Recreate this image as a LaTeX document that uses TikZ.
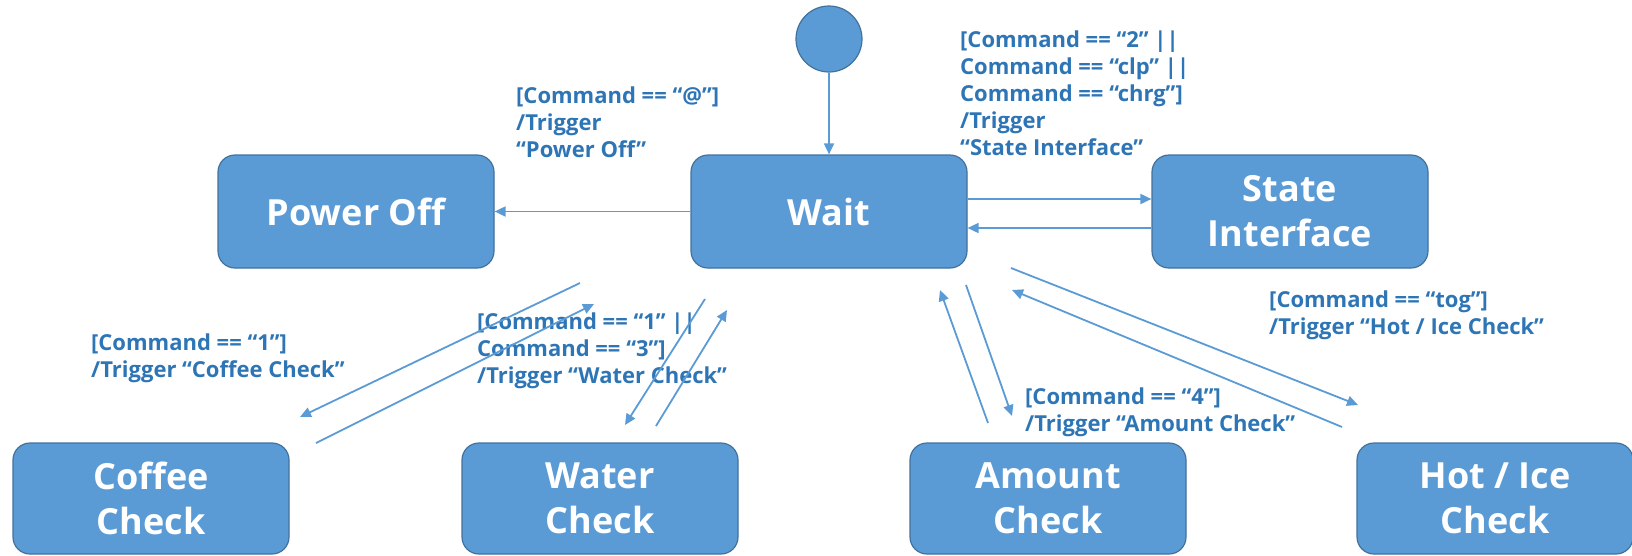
\documentclass[tikz,border=0pt]{standalone}
\usepackage{fontspec}
\setmainfont{Open Sans}
\usetikzlibrary{arrows.meta}
\definecolor{boxfill}{HTML}{5B9BD5}
\definecolor{boxline}{HTML}{41719C}
\definecolor{lblc}{HTML}{2E75B6}
\begin{document}
\begin{tikzpicture}[x=1pt,y=-1pt,
  state/.style={draw=boxline, line width=1.2pt, fill=boxfill, rounded corners=17pt,
    minimum width=276pt, minimum height=113pt, inner sep=0pt, text=white,
    font=\fontsize{36}{45}\selectfont\bfseries, align=center},
  lbl/.style={text=lblc, font=\fontsize{22}{27}\selectfont\bfseries, align=left,
    anchor=north west, inner sep=0pt},
  tr/.style={draw=boxfill, line width=1.8pt, -{Triangle[length=11pt,width=10pt]}}]
\useasboundingbox (0,0) rectangle (1632,555);
% states
\node[circle, fill=boxfill, draw=boxline, line width=1.2pt, minimum size=66pt, inner sep=0pt] (init) at (829,39) {};
\node[state] (wait) at (829,211.5) {Wait};
\node[state] (poweroff) at (356,211.5) {Power Off};
\node[state] (si) at (1290,211.5) {State\\Interface};
\node[state, minimum height=111pt] (coffee) at (151,498.5) {Coffee\\Check};
\node[state, minimum height=111pt] (water) at (600,498.5) {Water\\Check};
\node[state, minimum height=111pt] (amount) at (1048,498.5) {Amount\\Check};
\node[state, minimum height=111pt] (hot) at (1495,498.5) {Hot / Ice\\Check};
% labels
\node[lbl] (lp) at (516,87) {[Command == “@”]\\/Trigger\\“Power Off”};
\node[lbl] (ls) at (960,31) {[Command == “2” ||\\Command == “clp” ||\\Command == “chrg”]\\/Trigger\\“State Interface”};
\node[lbl] (lc) at (91,334) {[Command == “1”]\\/Trigger “Coffee Check”};
\node[lbl] (lw) at (477,313) {[Command == “1” ||\\Command == “3”]\\/Trigger “Water Check”};
\node[lbl] (la) at (1025,388) {[Command == “4”]\\/Trigger “Amount Check”};
\node[lbl] (lh) at (1269,291) {[Command == “tog”]\\/Trigger “Hot / Ice Check”};
% free arrow ends
\coordinate (c1a) at (580,283); \coordinate (c1b) at (300,417);
\coordinate (c2a) at (316,443); \coordinate (c2b) at (594,304);
\coordinate (w1a) at (705,299); \coordinate (w1b) at (625,425);
\coordinate (w2a) at (656,426); \coordinate (w2b) at (727,310);
\coordinate (a1a) at (988,423); \coordinate (a1b) at (940,290);
\coordinate (a2a) at (966,285); \coordinate (a2b) at (1012,416);
\coordinate (h1a) at (1011,268); \coordinate (h1b) at (1358,405);
\coordinate (h2a) at (1342,427); \coordinate (h2b) at (1012,290);
% connectors
\draw[tr] (init) -- (wait);
\draw[tr] (wait.west) -- (poweroff.east);
\draw[tr] ([yshift=12.5pt]wait.east) -- ([yshift=12.5pt]si.west);
\draw[tr] ([yshift=-16.5pt]si.west) -- ([yshift=-16.5pt]wait.east);
\draw[tr] (c1a) -- (c1b);
\draw[tr] (c2a) -- (c2b);
\draw[tr] (w1a) -- (w1b);
\draw[tr] (w2a) -- (w2b);
\draw[tr] (a1a) -- (a1b);
\draw[tr] (a2a) -- (a2b);
\draw[tr] (h1a) -- (h1b);
\draw[tr] (h2a) -- (h2b);
\end{tikzpicture}
\end{document}
